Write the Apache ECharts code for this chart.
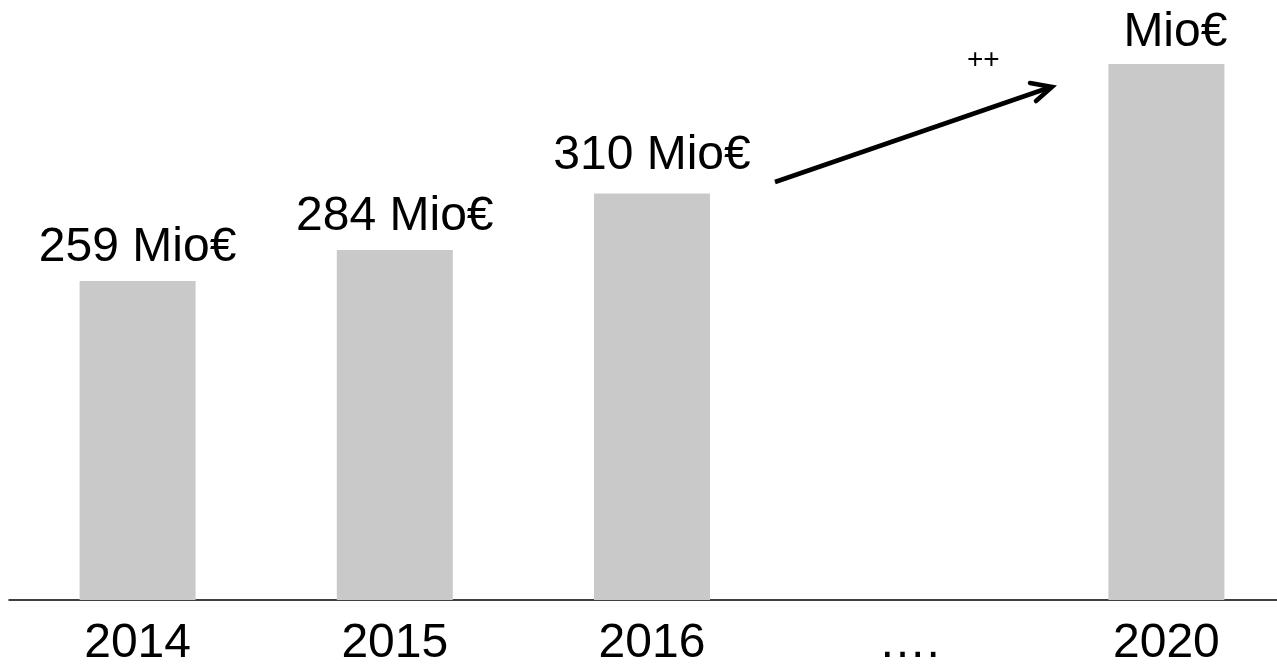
<!DOCTYPE html>
<html>
<head>
    <meta charset="utf-8">
    <script src="https://cdn.jsdelivr.net/npm/echarts@6/dist/echarts.min.js"></script>
    <style>
        html, body { margin: 0; padding: 0; background: #fff; }
    </style>
</head>
<body>
    <div id="main" style="width: 1277px;height:668px;"></div>
    <script type="text/javascript">

    // categories along the x axis
    var years = ['2014', '2015', '2016', '….', '2020'];
    // bar heights as drawn in the picture (Mio€ scale)
    var barValues = [259, 284, 330, null, 435];
    // texts written over the bars
    var barLabels = ['259 Mio€', '284 Mio€', '310 Mio€', '', 'Mio€'];
    // label distance above each bar
    var labelGap = [9, 9, 14, 0, 7];

    var font = '"Liberation Sans", Arial, sans-serif';

    var myChart = echarts.init(document.getElementById('main'));

    var seriesData = barValues.map(function (v, i) {
        var item = { value: v };
        item.label = { distance: labelGap[i] };
        if (i === 4) {
            item.label.offset = [9, 0];
        }
        return item;
    });

    myChart.setOption({
        animation: false,
        grid: {
            left: 9,
            right: -18,
            top: 0,
            bottom: 68,
            containLabel: false,
            outerBoundsMode: 'none'
        },
        xAxis: {
            type: 'category',
            data: years,
            axisTick: {show: false},
            axisLine: {
                lineStyle: {color: '#000', width: 1.5}
            },
            axisLabel: {
                color: '#000',
                fontSize: 48,
                fontFamily: font,
                margin: 20,
                interval: 0
            }
        },
        yAxis: {
            type: 'value',
            min: 0,
            max: 487,
            show: false
        },
        series: [
            {
                type: 'bar',
                barWidth: 116,
                data: seriesData,
                itemStyle: {color: '#c9c9c9'},
                label: {
                    show: true,
                    position: 'top',
                    color: '#000',
                    fontSize: 48,
                    fontFamily: font,
                    formatter: function (p) {
                        return barLabels[p.dataIndex];
                    }
                }
            }
        ],
        // growth arrow and "++" note
        graphic: [
            {
                type: 'polyline',
                shape: {points: [[775, 182], [1051, 87]]},
                style: {stroke: '#000', lineWidth: 4.5, fill: null}
            },
            {
                type: 'polyline',
                shape: {points: [[1030, 83], [1052, 87], [1036, 101]]},
                style: {stroke: '#000', lineWidth: 4.5, fill: null, lineCap: 'round', lineJoin: 'miter'}
            },
            {
                type: 'text',
                left: 967,
                top: 46,
                style: {text: '++', fontSize: 28, fontFamily: font, fill: '#000'}
            }
        ]
    });
    </script>
</body>
</html>
